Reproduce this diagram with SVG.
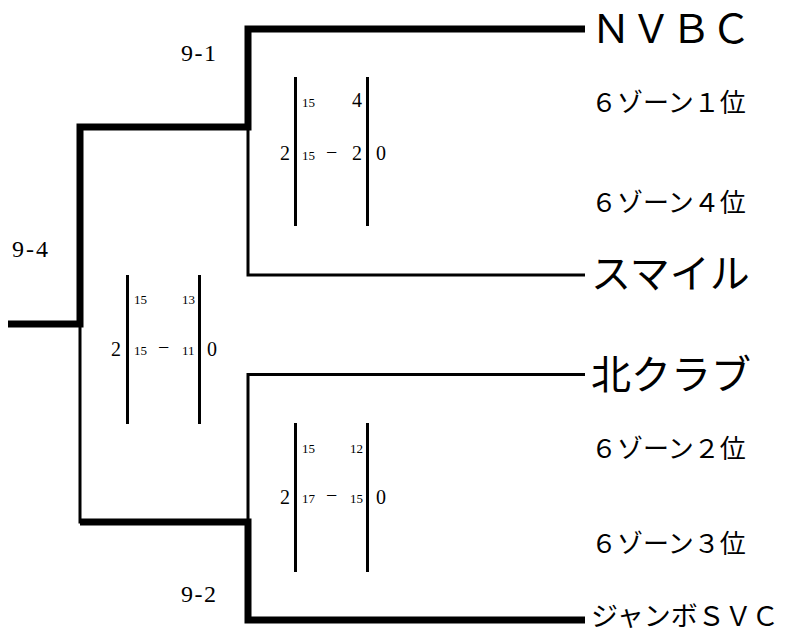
<svg xmlns="http://www.w3.org/2000/svg" width="791" height="632" viewBox="0 0 791 632">
<style>
.thick{fill:none;stroke:#000;stroke-width:7;stroke-linecap:butt;stroke-linejoin:miter}
.thin{fill:none;stroke:#000;stroke-width:3;stroke-linejoin:miter}
.bar{stroke:#000;stroke-width:3}
.t{font-family:"Liberation Serif","Noto Sans CJK JP",serif;fill:#000}
.big{font-size:20px}
.sm{font-size:13px}
.rnd{font-size:24px}
.team{font-size:40px}
.zone{font-size:26px}
</style>
<rect width="791" height="632" fill="#fff"/>
<g id="connectors">
<polyline class="thick" points="8,324 80,324 80,127 248,127 248,29 585,29"/>
<polyline class="thin" points="248,127 248,275 585,275"/>
<polyline class="thin" points="80,324 80,522 248,522"/>
<polyline class="thick" points="80,522 248,522 248,620 585,620"/>
<polyline class="thin" points="248,522 248,374.5 585,374.5"/>
</g>
<g id="round-9-1"><text class="t rnd" x="181" y="61" textLength="35">9-1</text></g>
<g id="round-9-4"><text class="t rnd" x="12" y="257" textLength="36">9-4</text></g>
<g id="round-9-2"><text class="t rnd" x="181" y="602" textLength="35">9-2</text></g>
<g id="score-9-1">
<line class="bar" x1="295.5" y1="77" x2="295.5" y2="226"/>
<line class="bar" x1="367.5" y1="77" x2="367.5" y2="226"/>
<text class="t big" x="280" y="160">2</text>
<text class="t sm" x="302" y="107">15</text>
<text class="t big" x="352" y="107">4</text>
<text class="t sm" x="302" y="160">15</text>
<text class="t big" x="326" y="159">−</text>
<text class="t big" x="352" y="160">2</text>
<text class="t big" x="376" y="160">0</text>
</g>
<g id="score-9-4">
<line class="bar" x1="127.5" y1="275" x2="127.5" y2="424"/>
<line class="bar" x1="199.5" y1="275" x2="199.5" y2="424"/>
<text class="t big" x="111" y="356">2</text>
<text class="t sm" x="134" y="304">15</text>
<text class="t sm" x="182" y="304">13</text>
<text class="t sm" x="134" y="355">15</text>
<text class="t big" x="158" y="354">−</text>
<text class="t sm" x="182" y="355">11</text>
<text class="t big" x="207" y="356">0</text>
</g>
<g id="score-9-2">
<line class="bar" x1="295.5" y1="423" x2="295.5" y2="572"/>
<line class="bar" x1="367.5" y1="423" x2="367.5" y2="572"/>
<text class="t big" x="280" y="504">2</text>
<text class="t sm" x="302" y="453">15</text>
<text class="t sm" x="350" y="453">12</text>
<text class="t sm" x="302" y="503">17</text>
<text class="t big" x="326" y="502">−</text>
<text class="t sm" x="350" y="503">15</text>
<text class="t big" x="376" y="504">0</text>
</g>
<g id="team-nvbc"><text class="t team" x="591" y="43">ＮＶＢＣ</text></g>
<g id="zone-1"><text class="t zone" x="591" y="112">６ゾーン１位</text></g>
<g id="zone-4"><text class="t zone" x="591" y="212">６ゾーン４位</text></g>
<g id="team-smile"><text class="t team" x="591" y="288">スマイル</text></g>
<g id="team-kita"><text class="t team" x="591" y="389">北クラブ</text></g>
<g id="zone-2"><text class="t zone" x="591" y="458">６ゾーン２位</text></g>
<g id="zone-3"><text class="t zone" x="591" y="553">６ゾーン３位</text></g>
<g id="team-jumbo"><text class="t" style="font-size:27px" x="591" y="626">ジャンボＳＶＣ</text></g>
</svg>
